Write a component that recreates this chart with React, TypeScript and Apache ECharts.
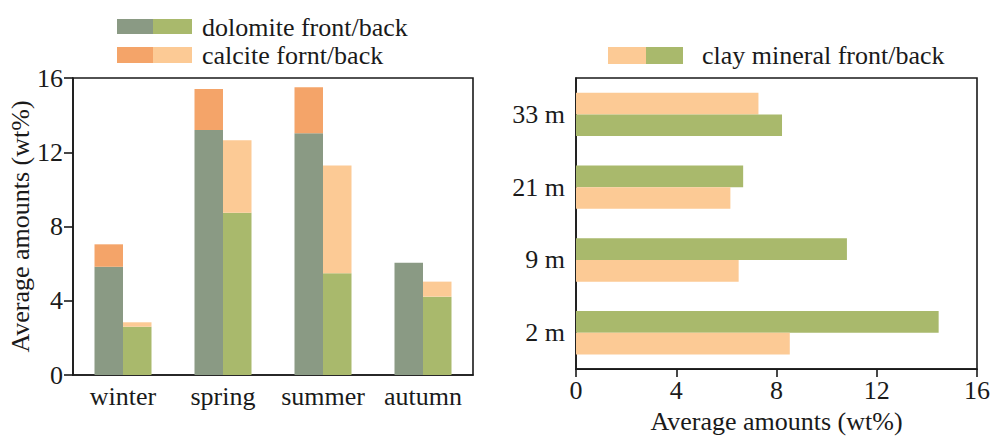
import React, { useEffect, useRef } from "react";
import * as echarts from "echarts";

const seasons = ["winter", "spring", "summer", "autumn"];
const dolomiteFront = [5.83, 13.2, 13.02, 6.05];
const calciteFront = [1.21, 2.21, 2.48, 0];
const dolomiteBack = [2.6, 8.74, 5.48, 4.22];
const calciteBack = [0.24, 3.91, 5.8, 0.81];

const depths = ["2 m", "9 m", "21 m", "33 m"];
const clayFront = [8.53, 6.49, 6.16, 7.28];
const clayBack = [14.47, 10.81, 6.67, 8.22];
// true when the front bar sits above the back bar in the reference
const frontOnTop = [false, false, false, true];

const valueTicks = { min: 0, max: 16, interval: 4 };

const C_DOL_F = "#8A9A84";
const C_DOL_B = "#A9B96C";
const C_CAL_F = "#F4A469";
const C_CAL_B = "#FCCA95";
const INK = "#1a1a1a";
const FONT = "Liberation Serif";
const FS = 26;

export default function App() {
  const ref = useRef<HTMLDivElement>(null);
  useEffect(() => {
    if (!ref.current) return;
    const chart = echarts.init(ref.current, undefined, { renderer: "svg" });

    const upper = depths.map((_, i) =>
      frontOnTop[i]
        ? { value: clayFront[i], itemStyle: { color: C_CAL_B } }
        : { value: clayBack[i], itemStyle: { color: C_DOL_B } }
    );
    const lower = depths.map((_, i) =>
      frontOnTop[i]
        ? { value: clayBack[i], itemStyle: { color: C_DOL_B } }
        : { value: clayFront[i], itemStyle: { color: C_CAL_B } }
    );

    const axisLine = { show: true, lineStyle: { color: INK, width: 1.6 } };
    const txt = { fontFamily: FONT, fontSize: FS, color: INK };

    chart.setOption({
      animation: false,
      textStyle: { fontFamily: FONT },
      grid: [
        { left: 73, width: 400, top: 78, height: 297, show: true, borderColor: INK, borderWidth: 1.6, backgroundColor: "transparent" },
        { left: 576, width: 402, top: 78, height: 297, show: true, borderColor: INK, borderWidth: 1.6, backgroundColor: "transparent" },
      ],
      xAxis: [
        {
          gridIndex: 0,
          type: "category",
          data: seasons,
          axisLine,
          axisTick: { show: false },
          axisLabel: { ...txt, margin: 8, interval: 0, hideOverlap: false },
        },
        {
          gridIndex: 1,
          type: "value",
          ...valueTicks,
          axisLine,
          axisTick: { show: true, length: 8, inside: false, lineStyle: { color: INK, width: 1.6 } },
          axisLabel: { ...txt, margin: 8 },
          splitLine: { show: false },
          name: "Average amounts (wt%)",
          nameLocation: "middle",
          nameGap: 35,
          nameTextStyle: { ...txt },
        },
      ],
      yAxis: [
        {
          gridIndex: 0,
          type: "value",
          ...valueTicks,
          axisLine,
          axisTick: { show: true, length: 9, inside: false, lineStyle: { color: INK, width: 1.6 } },
          axisLabel: { ...txt, margin: 10 },
          splitLine: { show: false },
          name: "Average amounts (wt%)",
          nameLocation: "middle",
          nameRotate: 90,
          nameGap: 37,
          nameTextStyle: { ...txt },
        },
        {
          gridIndex: 1,
          type: "category",
          data: depths,
          axisLine,
          axisTick: { show: false },
          axisLabel: { ...txt, margin: 11, interval: 0 },
        },
      ],
      series: [
        { type: "bar", name: "dolomite front", xAxisIndex: 0, yAxisIndex: 0, stack: "front", data: dolomiteFront, barWidth: 28.5, barGap: "0%", itemStyle: { color: C_DOL_F } },
        { type: "bar", name: "calcite front", xAxisIndex: 0, yAxisIndex: 0, stack: "front", data: calciteFront, barWidth: 28.5, barGap: "0%", itemStyle: { color: C_CAL_F } },
        { type: "bar", name: "dolomite back", xAxisIndex: 0, yAxisIndex: 0, stack: "back", data: dolomiteBack, barWidth: 28.5, barGap: "0%", itemStyle: { color: C_DOL_B } },
        { type: "bar", name: "calcite back", xAxisIndex: 0, yAxisIndex: 0, stack: "back", data: calciteBack, barWidth: 28.5, barGap: "0%", itemStyle: { color: C_CAL_B } },
        { type: "bar", name: "clay upper", xAxisIndex: 1, yAxisIndex: 1, data: upper, barWidth: 21.7, barGap: "0%" },
        { type: "bar", name: "clay lower", xAxisIndex: 1, yAxisIndex: 1, data: lower, barWidth: 21.7, barGap: "0%" },
      ],
      graphic: [
        { type: "rect", shape: { x: 117, y: 19, width: 36, height: 15 }, style: { fill: C_DOL_F } },
        { type: "rect", shape: { x: 153, y: 19, width: 39, height: 15 }, style: { fill: C_DOL_B } },
        { type: "text", x: 202, y: 27, style: { text: "dolomite front/back", font: `${FS}px ${FONT}`, fill: INK, verticalAlign: "middle" } },
        { type: "rect", shape: { x: 117, y: 47, width: 36, height: 16 }, style: { fill: C_CAL_F } },
        { type: "rect", shape: { x: 153, y: 47, width: 39, height: 16 }, style: { fill: C_CAL_B } },
        { type: "text", x: 202, y: 55, style: { text: "calcite fornt/back", font: `${FS}px ${FONT}`, fill: INK, verticalAlign: "middle" } },
        { type: "rect", shape: { x: 608, y: 47, width: 38, height: 17 }, style: { fill: C_CAL_B } },
        { type: "rect", shape: { x: 646, y: 47, width: 37, height: 17 }, style: { fill: C_DOL_B } },
        { type: "text", x: 702, y: 55, style: { text: "clay mineral front/back", font: `${FS}px ${FONT}`, fill: INK, verticalAlign: "middle" } },
      ],
    });
    return () => chart.dispose();
  }, []);
  return (
    <div
      ref={ref}
      style={{ position: "fixed", left: 0, top: 0, width: 993, height: 439, background: "#fff" }}
    />
  );
}
